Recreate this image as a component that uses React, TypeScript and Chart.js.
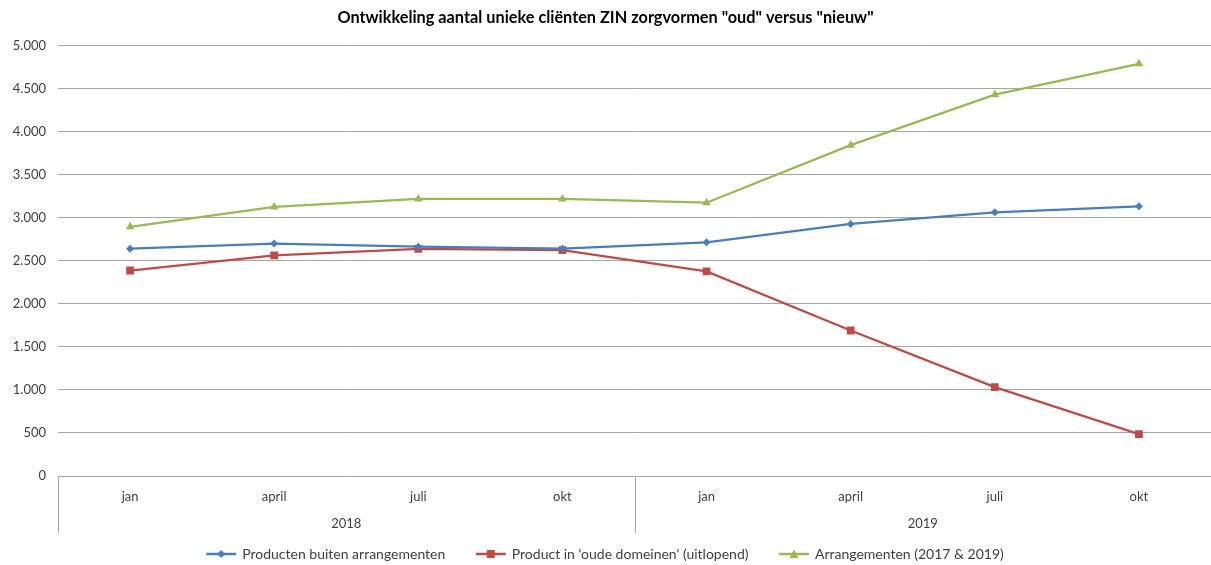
import React, { useEffect, useRef } from 'react';
import { Chart, registerables } from 'chart.js';

Chart.register(...registerables);

const months = ['jan', 'april', 'juli', 'okt', 'jan', 'april', 'juli', 'okt'];
const years = ['2018', '2019'];
const buitenArrangementen = [2640, 2700, 2663, 2640, 2715, 2928, 3063, 3133];
const oudeDomeinen = [2387, 2564, 2638, 2625, 2376, 1690, 1032, 486];
const arrangementen = [2895, 3125, 3218, 3218, 3175, 3843, 4430, 4788];
const seriesNames = [
  'Producten buiten arrangementen',
  "Product in 'oude domeinen' (uitlopend)",
  'Arrangementen (2017 & 2019)',
];
const chartTitle = 'Ontwikkeling aantal unieke cliënten ZIN zorgvormen "oud" versus "nieuw"';
const yMin = 0;
const yMax = 5000;
const yStep = 500;

const BLUE = '#4A7EBB';
const RED = '#BE4B48';
const GREEN = '#98B954';
const GRID = '#A6A6A6';
const TEXT = '#404040';
const FONT = 'Lato, "Liberation Sans", Arial, sans-serif';

function fmt(n: number): string {
  return Math.round(n).toString().replace(/\B(?=(\d{3})+(?!\d))/g, '.');
}

function legendIcon(color: string, style: string): HTMLCanvasElement {
  const c = document.createElement('canvas');
  c.width = 32;
  c.height = 12;
  const g = c.getContext('2d')!;
  g.strokeStyle = color;
  g.lineWidth = 2.5;
  g.beginPath();
  g.moveTo(1, 6);
  g.lineTo(31, 6);
  g.stroke();
  g.fillStyle = color;
  g.beginPath();
  if (style === 'rectRot') {
    g.moveTo(16, 2);
    g.lineTo(20, 6);
    g.lineTo(16, 10);
    g.lineTo(12, 6);
  } else if (style === 'rect') {
    g.rect(12, 2, 8, 8);
  } else {
    g.moveTo(16, 1.5);
    g.lineTo(20.5, 10);
    g.lineTo(11.5, 10);
  }
  g.closePath();
  g.fill();
  return c;
}

const dividerPlugin = {
  id: 'dividers',
  afterDraw(chart: any) {
    const x = chart.scales.x;
    const x2 = chart.scales.x2;
    const ctx = chart.ctx;
    const top = chart.chartArea.bottom;
    const bottom = x2.top + 29;
    const mid = (x.getPixelForValue(3) + x.getPixelForValue(4)) / 2;
    ctx.save();
    ctx.strokeStyle = GRID;
    ctx.lineWidth = 1;
    [x.left, mid].forEach((px: number) => {
      const p = Math.round(px) + 0.5;
      ctx.beginPath();
      ctx.moveTo(p, top);
      ctx.lineTo(p, bottom);
      ctx.stroke();
    });
    ctx.restore();
  },
};

export default function App() {
  const ref = useRef<HTMLCanvasElement>(null);

  useEffect(() => {
    if (!ref.current) return;
    const styles = ['rectRot', 'rect', 'triangle'];
    const colors = [BLUE, RED, GREEN];
    const icons = colors.map((c, i) => legendIcon(c, styles[i]));
    const chart = new Chart(ref.current, {
      type: 'line',
      data: {
        labels: months,
        datasets: [
          {
            label: seriesNames[0],
            data: buitenArrangementen,
            borderColor: BLUE,
            backgroundColor: BLUE,
            borderWidth: 2.25,
            pointStyle: 'rectRot',
            pointRadius: 4,
            pointBorderWidth: 0,
            tension: 0,
          },
          {
            label: seriesNames[1],
            data: oudeDomeinen,
            borderColor: RED,
            backgroundColor: RED,
            borderWidth: 2.25,
            pointStyle: 'rect',
            pointRadius: 5.5,
            pointBorderWidth: 0,
            tension: 0,
          },
          {
            label: seriesNames[2],
            data: arrangementen,
            borderColor: GREEN,
            backgroundColor: GREEN,
            borderWidth: 2.25,
            pointStyle: 'triangle',
            pointRadius: 5,
            pointBorderWidth: 0,
            tension: 0,
          },
        ],
      },
      options: {
        animation: false,
        responsive: false,
        maintainAspectRatio: false,
        layout: { autoPadding: false, padding: { left: 0, right: 0, top: 0, bottom: -6 } },
        plugins: {
          tooltip: { enabled: false },
          title: {
            display: true,
            text: chartTitle,
            color: '#000000',
            font: { family: FONT, size: 16.3, weight: 'bold' },
            padding: { top: 8, bottom: 18 },
          },
          legend: {
            position: 'bottom',
            labels: {
              color: TEXT,
              font: { family: FONT, size: 14 },
              padding: 10,
              usePointStyle: true,
              pointStyleWidth: 28,
              generateLabels: (ch: any) =>
                ch.data.datasets.map((ds: any, i: number) => ({
                  text: i < 2 ? ds.label + '\u00a0'.repeat(6) : ds.label,
                  fillStyle: colors[i],
                  strokeStyle: colors[i],
                  lineWidth: 0,
                  pointStyle: icons[i],
                  fontColor: TEXT,
                  hidden: false,
                  datasetIndex: i,
                })),
            },
          },
        },
        scales: {
          x: {
            type: 'category',
            position: 'bottom',
            weight: 0,
            offset: true,
            grid: { display: false, drawTicks: false },
            border: { display: true, color: GRID, width: 1 },
            ticks: { color: TEXT, font: { family: FONT, size: 13 }, padding: 13, maxRotation: 0, autoSkip: false },
            afterFit: (s: any) => {
              s.height = 28;
              s.paddingLeft = 0;
              s.paddingRight = 0;
            },
          },
          x2: {
            type: 'category',
            position: 'bottom',
            weight: 1,
            labels: years,
            offset: true,
            grid: { display: false, drawTicks: false },
            border: { display: false },
            ticks: { color: TEXT, font: { family: FONT, size: 13 }, padding: 12, maxRotation: 0 },
            afterFit: (s: any) => {
              s.height = 33;
              s.paddingLeft = 0;
              s.paddingRight = 0;
            },
          },
          y: {
            min: yMin,
            max: yMax,
            grid: { color: GRID, lineWidth: 1, drawTicks: false },
            border: { display: false },
            ticks: {
              stepSize: yStep,
              color: TEXT,
              font: { family: FONT, size: 13 },
              padding: 12,
              callback: (v: any) => fmt(Number(v)),
            },
            afterFit: (s: any) => {
              s.width = 58;
            },
          },
        },
      },
      plugins: [dividerPlugin],
    } as any);
    return () => chart.destroy();
  }, []);

  return (
    <div style={{ position: 'fixed', left: 0, top: 0, width: 1211, height: 565, background: '#fff' }}>
      <canvas ref={ref} width={1211} height={565} style={{ width: 1211, height: 565 }} />
    </div>
  );
}
